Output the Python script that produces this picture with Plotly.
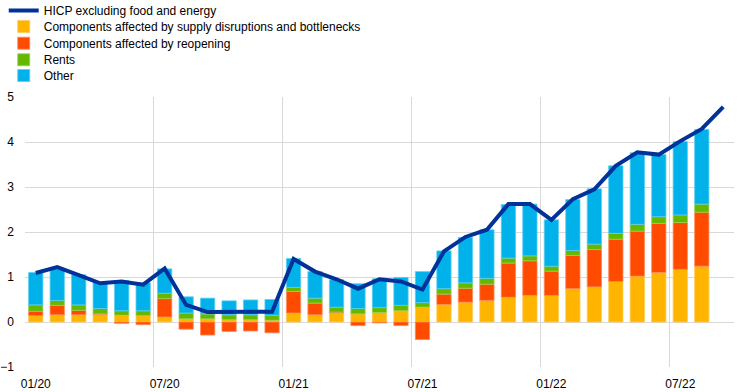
import plotly.graph_objects as go

months = ["01/20","02/20","03/20","04/20","05/20","06/20","07/20","08/20","09/20","10/20","11/20","12/20",
          "01/21","02/21","03/21","04/21","05/21","06/21","07/21","08/21","09/21","10/21","11/21","12/21",
          "01/22","02/22","03/22","04/22","05/22","06/22","07/22","08/22","09/22"]

supply = [0.14,0.16,0.16,0.17,0.15,0.14,0.11,0.07,0.07,0.05,0.05,0.04,
          0.20,0.16,0.20,0.18,0.21,0.25,0.33,0.39,0.44,0.48,0.55,0.59,
          0.59,0.74,0.78,0.90,1.02,1.10,1.17,1.24]
reopening = [0.10,0.21,0.10,0.01,-0.03,-0.06,0.41,-0.16,-0.29,-0.21,-0.20,-0.24,
             0.48,0.26,0.02,-0.08,-0.02,-0.08,-0.39,0.23,0.31,0.36,0.76,0.77,
             0.54,0.74,0.83,0.94,1.00,1.09,1.04,1.20]
rents = [0.14,0.11,0.12,0.12,0.10,0.11,0.12,0.13,0.11,0.11,0.11,0.11,
         0.09,0.11,0.11,0.12,0.11,0.12,0.10,0.12,0.12,0.13,0.11,0.11,
         0.11,0.11,0.12,0.13,0.15,0.15,0.17,0.18]
other = [0.72,0.70,0.67,0.58,0.67,0.62,0.54,0.36,0.35,0.31,0.33,0.35,
         0.64,0.59,0.61,0.55,0.64,0.62,0.69,0.84,1.01,1.08,1.19,1.15,
         1.03,1.13,1.23,1.50,1.59,1.38,1.63,1.66]
hicp_x = [1.09,1.22,1.04,0.86,0.90,0.83,1.19,0.38,0.22,0.22,0.23,0.23,
          1.40,1.12,0.95,0.74,0.95,0.90,0.72,1.57,1.89,2.05,2.62,2.62,
          2.27,2.73,2.95,3.47,3.77,3.72,4.02,4.29,4.78]

tick_labels = ["01/20","07/20","01/21","07/21","01/22","07/22"]

xi = list(range(len(months)))
xb = xi[:len(supply)]
tickvals = [months.index(t) for t in tick_labels]

FONT = "Arial, Liberation Sans, sans-serif"
fig = go.Figure()

fig.add_trace(go.Scatter(x=xi, y=hicp_x, name="HICP excluding food and energy", mode="lines",
                         line=dict(color="#003299", width=4), legend="legend"))

def add_bar(name, vals, color, edge, leg):
    fig.add_trace(go.Bar(x=xb, y=vals, name=name, legend=leg,
                         marker=dict(color=color, line=dict(color=edge, width=0.8))))

add_bar("Components affected by supply disruptions and bottlenecks", supply, "#FFB400", "#FFCB55", "legend2")
add_bar("Components affected by reopening", reopening, "#FF4B00", "#FF8A5C", "legend3")
add_bar("Rents", rents, "#65B800", "#9AD055", "legend4")
add_bar("Other", other, "#00B1EA", "#5CCDF2", "legend5")

def leg(y):
    return dict(x=-0.030, y=y, xanchor="left", yanchor="top",
                font=dict(family=FONT, size=12, color="#000000"),
                bgcolor="rgba(0,0,0,0)", itemwidth=30)

fig.update_layout(
    width=743, height=392,
    barmode="relative", bargap=0.335,
    plot_bgcolor="white", paper_bgcolor="white",
    margin=dict(l=25, r=9, t=97, b=25, autoexpand=False),
    font=dict(family=FONT, size=12, color="#000000"),
    legend=leg(1.3741), legend2=leg(1.3148), legend3=leg(1.2530),
    legend4=leg(1.1915), legend5=leg(1.1333),
    xaxis=dict(range=[-0.5, len(months) - 0.5], tickvals=tickvals, ticktext=tick_labels,
               showgrid=False, zeroline=False, showline=False, ticks="",
               minor=dict(tick0=-0.5, dtick=6, showgrid=True, gridcolor="#D9D9D9", gridwidth=1, ticks=""),
               ticklabelstandoff=8, automargin=False),
    yaxis=dict(range=[-1, 5], dtick=1, showgrid=True, gridcolor="#D9D9D9", gridwidth=1,
               zeroline=True, zerolinecolor="#D9D9D9", zerolinewidth=1,
               showline=False, ticks="", ticklabelstandoff=10, automargin=False),
    showlegend=True,
)

fig.write_html("out.html", config={"displayModeBar": False},
               post_script="document.body.style.margin='0';")
